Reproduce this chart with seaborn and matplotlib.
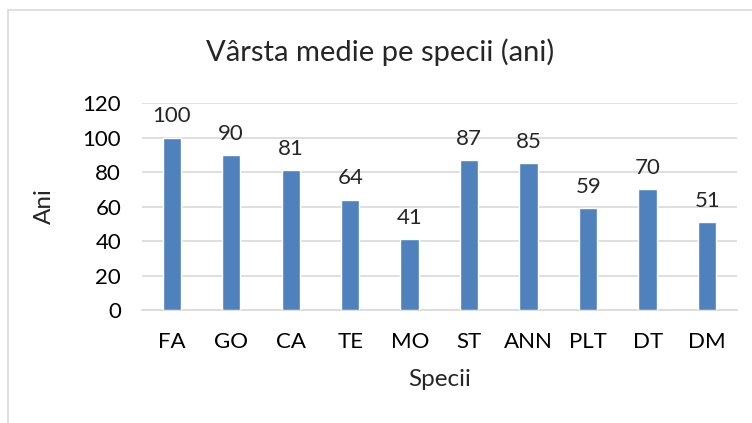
import matplotlib
matplotlib.use("Agg")
import matplotlib.pyplot as plt
import seaborn as sns
import pandas as pd
from matplotlib.patches import Rectangle

specii = ["FA", "GO", "CA", "TE", "MO", "ST", "ANN", "PLT", "DT", "DM"]
varsta = [100, 90, 81, 64, 41, 87, 85, 59, 70, 51]
y_ticks = [0, 20, 40, 60, 80, 100, 120]

sns.set_style("white")
plt.rcParams["font.family"] = ["Lato", "DejaVu Sans"]

df = pd.DataFrame({"Specii": specii, "Ani": varsta})

fig = plt.figure(figsize=(7.52, 4.23), dpi=100)
ax = fig.add_axes([0.1888, 0.2671, 0.7912, 0.4894])

# chart frame (Excel style, cut off at right/bottom)
fig.patches.append(Rectangle((8 / 752, -0.1), 1.2, 1 - 10 / 423 + 0.1,
                             transform=fig.transFigure, fill=False,
                             edgecolor="#d9d9d9", lw=1.2))

sns.barplot(data=df, x="Specii", y="Ani", color="#4F81BD", width=0.31,
            saturation=1, ax=ax, zorder=3)

ax.set_ylim(0, 120)
ax.set_xlim(-0.5, len(specii) - 0.5)
ax.set_yticks(y_ticks)
ax.yaxis.grid(True, color="#d9d9d9", lw=1.2, zorder=0)
for s in ["top", "right", "left"]:
    ax.spines[s].set_visible(False)
ax.spines["bottom"].set_color("#d9d9d9")
ax.spines["bottom"].set_linewidth(1.2)
ax.tick_params(axis="both", length=0, labelsize=16, colors="black")
ax.tick_params(axis="x", pad=16)
ax.tick_params(axis="y", pad=15)

for c in ax.containers:
    ax.bar_label(c, labels=[str(v) for v in varsta], padding=8, fontsize=16)

ax.set_xlabel("Specii", fontsize=17.5, labelpad=12)
ax.set_ylabel("Ani", fontsize=17.5, labelpad=20)
fig.text(0.505, 0.877, "Vârsta medie pe specii (ani)", ha="center", va="center",
         fontsize=21)

fig.savefig("out.png", dpi=100)
